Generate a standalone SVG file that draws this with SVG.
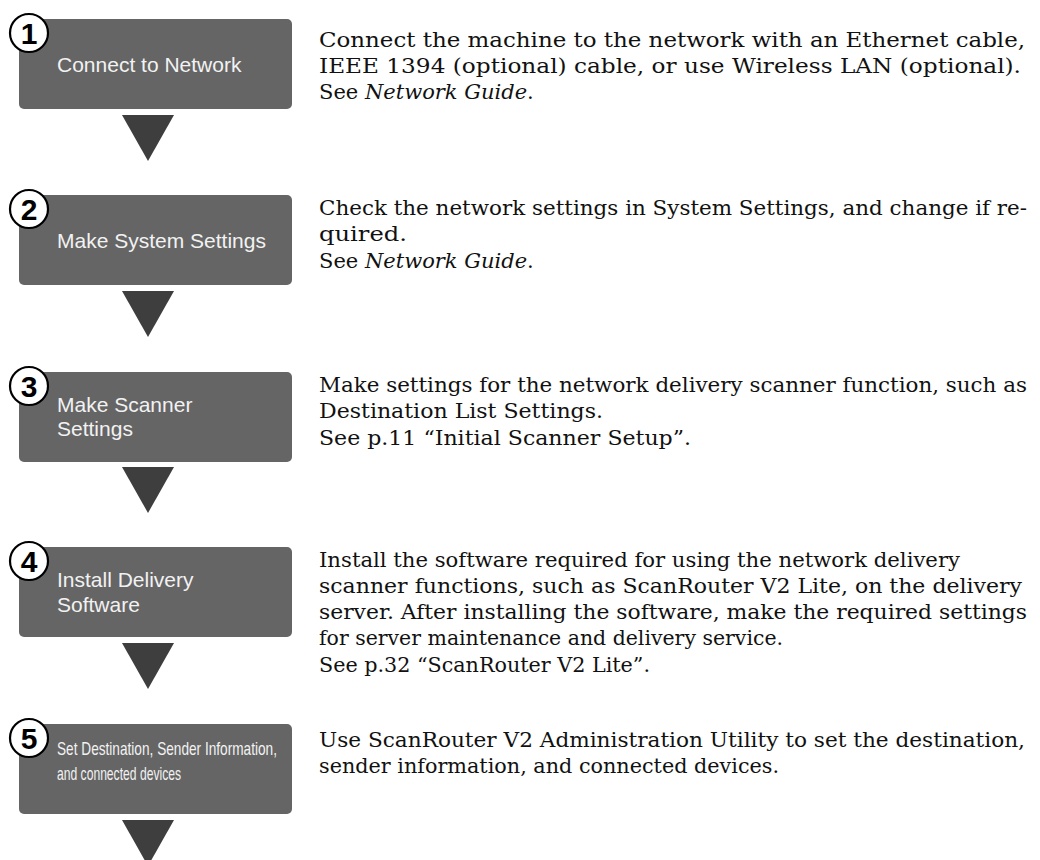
<svg xmlns="http://www.w3.org/2000/svg" width="1040" height="860" viewBox="0 0 1040 860">
<style>
.box{fill:#656565}
.tri{fill:#3e3e3e}
.num{fill:#fff;stroke:#000;stroke-width:2.2}
.dig{font-family:"Liberation Sans",Arial,sans-serif;font-weight:bold;font-size:30px;fill:#000;text-anchor:middle}
.lbl{font-family:"Liberation Sans",Arial,sans-serif;font-size:21px;fill:#f2f2f2}
.nar{font-family:"Liberation Sans",Arial,sans-serif;font-size:19px;fill:#f2f2f2}
.desc{font-family:"DejaVu Serif","Liberation Serif",serif;font-size:21px;fill:#111}
.it{font-style:italic}
</style>
<rect width="1040" height="860" fill="#fff"/>
<g id="connectors">
<polygon class="tri" points="122,115 174,115 148,161"/>
<polygon class="tri" points="122,291 174,291 148,337"/>
<polygon class="tri" points="122,467 174,467 148,513"/>
<polygon class="tri" points="122,643 174,643 148,689"/>
<polygon class="tri" points="122,820 174,820 148,866"/>
</g>
<g id="step1">
<rect class="box" x="19" y="19" width="273" height="90" rx="5"/>
<circle class="num" cx="29" cy="33" r="19"/>
<text class="dig" x="29" y="44">1</text>
<text class="lbl" x="57" y="72">Connect to Network</text>
</g>
<g id="step2">
<rect class="box" x="19" y="195" width="273" height="90" rx="5"/>
<circle class="num" cx="29" cy="209" r="19"/>
<text class="dig" x="29" y="220">2</text>
<text class="lbl" x="57" y="248">Make System Settings</text>
</g>
<g id="step3">
<rect class="box" x="19" y="372" width="273" height="90" rx="5"/>
<circle class="num" cx="29" cy="386" r="19"/>
<text class="dig" x="29" y="397">3</text>
<text class="lbl" x="57" y="412">Make Scanner</text>
<text class="lbl" x="57" y="436">Settings</text>
</g>
<g id="step4">
<rect class="box" x="19" y="547" width="273" height="90" rx="5"/>
<circle class="num" cx="29" cy="561" r="19"/>
<text class="dig" x="29" y="572">4</text>
<text class="lbl" x="57" y="587">Install Delivery</text>
<text class="lbl" x="57" y="612">Software</text>
</g>
<g id="step5">
<rect class="box" x="19" y="724" width="273" height="90" rx="5"/>
<circle class="num" cx="29" cy="738" r="19"/>
<text class="dig" x="29" y="749">5</text>
<text class="nar" x="57" y="755" textLength="220" lengthAdjust="spacingAndGlyphs">Set Destination, Sender Information,</text>
<text class="nar" x="57" y="780" textLength="124" lengthAdjust="spacingAndGlyphs">and connected devices</text>
</g>
<g id="descriptions">
<text class="desc" x="319" y="47" textLength="706" lengthAdjust="spacingAndGlyphs">Connect the machine to the network with an Ethernet cable,</text>
<text class="desc" x="319" y="73" textLength="702" lengthAdjust="spacingAndGlyphs">IEEE 1394 (optional) cable, or use Wireless LAN (optional).</text>
<text class="desc" x="319" y="99">See <tspan class="it">Network Guide</tspan>.</text>

<text class="desc" x="319" y="215" textLength="708" lengthAdjust="spacingAndGlyphs">Check the network settings in System Settings, and change if re-</text>
<text class="desc" x="319" y="241" textLength="88" lengthAdjust="spacingAndGlyphs">quired.</text>
<text class="desc" x="319" y="268">See <tspan class="it">Network Guide</tspan>.</text>

<text class="desc" x="319" y="392" textLength="708" lengthAdjust="spacingAndGlyphs">Make settings for the network delivery scanner function, such as</text>
<text class="desc" x="319" y="418" textLength="284" lengthAdjust="spacingAndGlyphs">Destination List Settings.</text>
<text class="desc" x="319" y="445" textLength="372" lengthAdjust="spacingAndGlyphs">See p.11 “Initial Scanner Setup”.</text>

<text class="desc" x="319" y="567" textLength="641" lengthAdjust="spacingAndGlyphs">Install the software required for using the network delivery</text>
<text class="desc" x="319" y="593" textLength="703" lengthAdjust="spacingAndGlyphs">scanner functions, such as ScanRouter V2 Lite, on the delivery</text>
<text class="desc" x="319" y="619" textLength="708" lengthAdjust="spacingAndGlyphs">server. After installing the software, make the required settings</text>
<text class="desc" x="319" y="645" textLength="464" lengthAdjust="spacingAndGlyphs">for server maintenance and delivery service.</text>
<text class="desc" x="319" y="672" textLength="331" lengthAdjust="spacingAndGlyphs">See p.32 “ScanRouter V2 Lite”.</text>

<text class="desc" x="319" y="747" textLength="706" lengthAdjust="spacingAndGlyphs">Use ScanRouter V2 Administration Utility to set the destination,</text>
<text class="desc" x="319" y="773" textLength="460" lengthAdjust="spacingAndGlyphs">sender information, and connected devices.</text>
</g>
</svg>
